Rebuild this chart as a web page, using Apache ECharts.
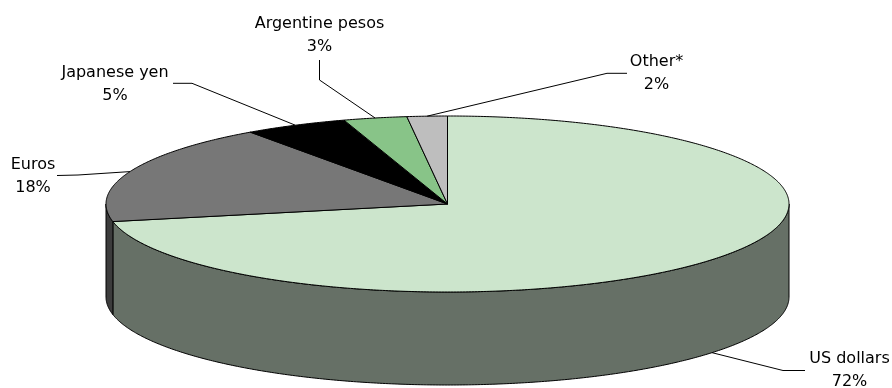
<!DOCTYPE html>
<html>
<head>
<meta charset="utf-8">
<script src="https://cdn.jsdelivr.net/npm/echarts@6/dist/echarts.min.js"></script>
<style>
html,body{margin:0;padding:0;background:#fff;}
#chart{width:892px;height:388px;}
</style>
</head>
<body>
<div id="chart"></div>
<script>
// ---- data ----
const categories = ['US dollars', 'Euros', 'Japanese yen', 'Argentine pesos', 'Other*'];
const shares = [71.8, 18.4, 4.9, 3.0, 1.9];

// ---- styles / layout ----
const topColors = ['#CCE5CC', '#777777', '#000000', '#88C488', '#BEBEBE'];
const sideColors = ['#667066', '#3C3C3C', '#000000', '#446244', '#5F5F5F'];
const GEO = { cx: 447.5, cy: 204, rx: 341.5, ry: 88, depth: 93 };
// label centre, leader elbow, leader end; anchor on bottom edge?
const labelLayout = [
  { pos: [849.5, 370], elbow: [783, 370.5], end: [805, 370.5], bottom: true },
  { pos: [33, 176], elbow: [78, 175], end: [57, 175.5], bottom: false },
  { pos: [115, 84], elbow: [192, 83.3], end: [173, 83.3], bottom: false },
  { pos: [319.5, 35.4], elbow: [319.5, 80], end: [319.5, 60], bottom: false },
  { pos: [656.5, 73.7], elbow: [607, 73.3], end: [627, 73.3], bottom: false }
];

const total = shares.reduce((a, b) => a + b, 0);
const starts = [];
let acc = 0;
shares.forEach(v => { starts.push(acc / total * 360); acc += v; });

function pt(deg, dy) {
  const r = deg * Math.PI / 180;
  return [GEO.cx + GEO.rx * Math.sin(r), GEO.cy - GEO.ry * Math.cos(r) + (dy || 0)];
}
function arcPts(a1, a2, dy) {
  const pts = [];
  const n = Math.max(2, Math.ceil(Math.abs(a2 - a1) / 0.5));
  for (let k = 0; k <= n; k++) pts.push(pt(a1 + (a2 - a1) * k / n, dy));
  return pts;
}

const chart = echarts.init(document.getElementById('chart'), null, { renderer: 'canvas' });

function renderWall(params, api) {
  const i = api.value(1);
  const a1 = starts[i];
  const a2 = a1 + api.value(0) / total * 360;
  const s = Math.max(a1, 90), e = Math.min(a2, 270);
  if (e <= s) return { type: 'group', children: [] };
  const topEdge = arcPts(s, e, 0);
  const botEdge = arcPts(e, s, GEO.depth);
  return {
    type: 'polygon',
    shape: { points: topEdge.concat(botEdge) },
    style: { fill: sideColors[i], stroke: '#000', lineWidth: 1 }
  };
}

function renderTop(params, api) {
  const i = api.value(1);
  const v = api.value(0);
  const a1 = starts[i];
  const a2 = a1 + v / total * 360;
  const mid = (a1 + a2) / 2;
  const L = labelLayout[i];
  const anchor = pt(mid, L.bottom ? GEO.depth : 0);
  const pts = [[GEO.cx, GEO.cy]].concat(arcPts(a1, a2, 0));
  return {
    type: 'group',
    children: [
      {
        type: 'polygon',
        shape: { points: pts },
        style: { fill: topColors[i], stroke: '#000', lineWidth: 1 }
      },
      {
        type: 'polyline',
        shape: { points: [anchor, L.elbow, L.end] },
        style: { fill: null, stroke: '#000', lineWidth: 1 }
      },
      {
        type: 'text',
        style: {
          x: L.pos[0], y: L.pos[1],
          text: categories[i] + '\n' + Math.round(v / total * 100) + '%',
          align: 'center', verticalAlign: 'middle',
          font: '16px "DejaVu Sans"', lineHeight: 23, fill: '#000'
        }
      }
    ]
  };
}

const seriesData = shares.map((v, i) => [v, i]);
chart.setOption({
  animation: false,
  backgroundColor: '#fff',
  series: [
    { type: 'custom', coordinateSystem: 'none', renderItem: renderWall, data: seriesData, z: 1 },
    { type: 'custom', coordinateSystem: 'none', renderItem: renderTop, data: seriesData, z: 2 }
  ]
});
</script>
</body>
</html>
